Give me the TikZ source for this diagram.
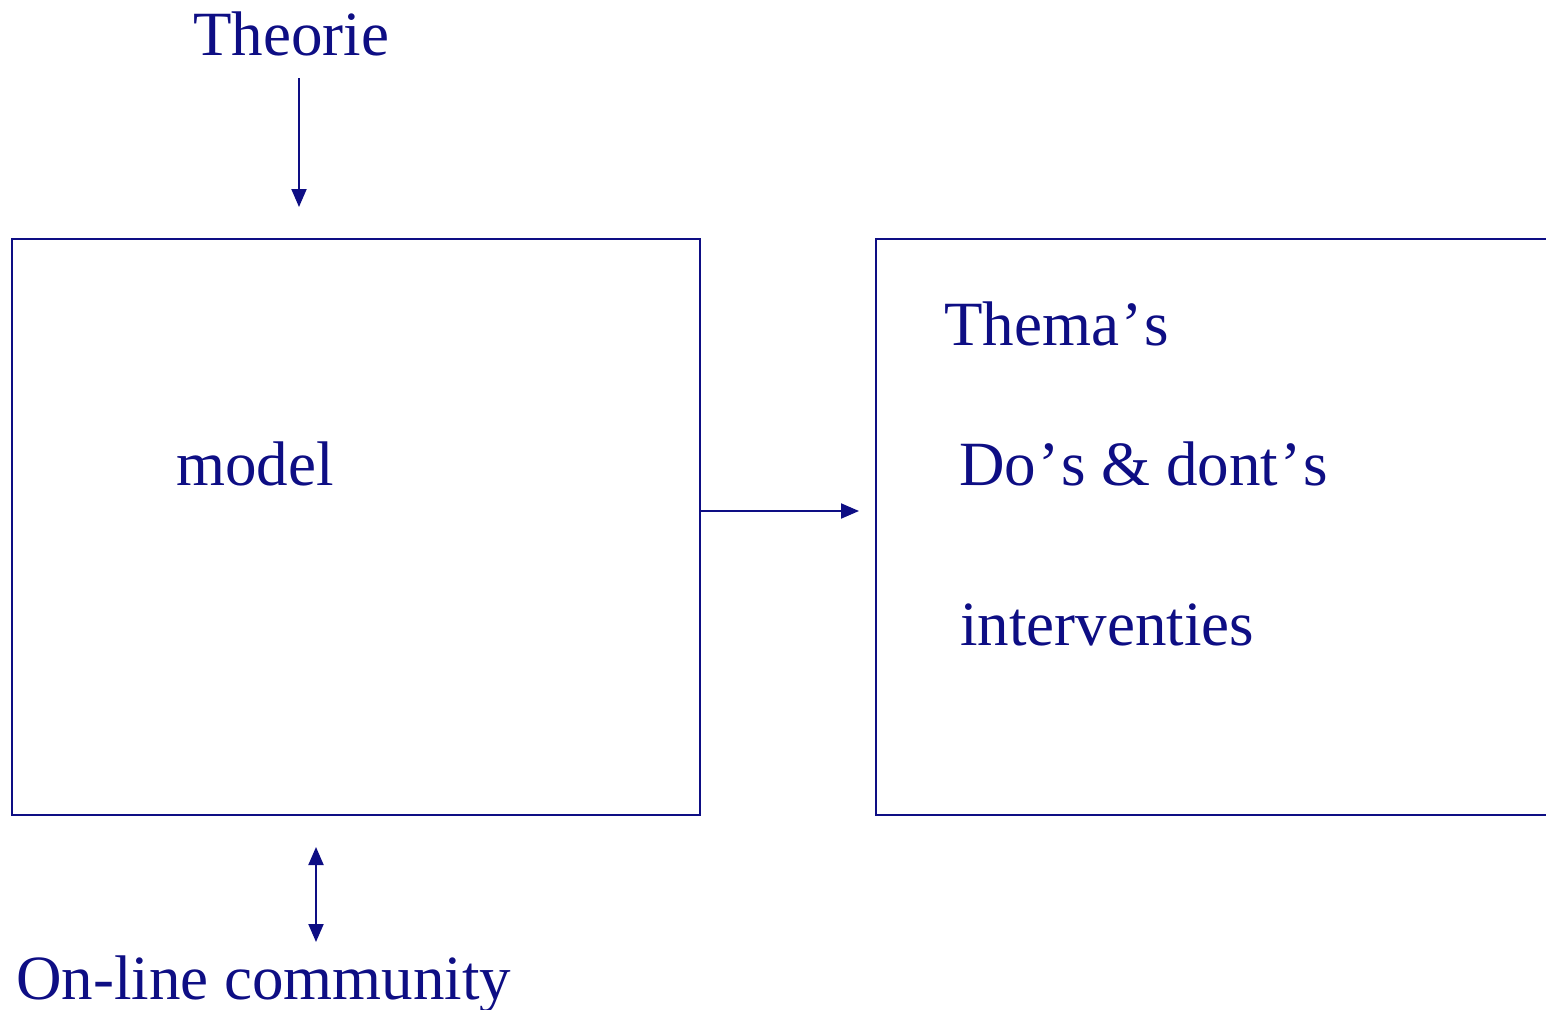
\documentclass[tikz,border=0pt]{standalone}
\usepackage{fontspec}
\setmainfont{Liberation Serif}
\usetikzlibrary{arrows.meta}

\definecolor{Navy}{HTML}{0E0E84}
\newcommand{\apos}{\kern2pt’\kern2pt}
\tikzstyle{frame}=[draw=Navy, line width=2pt, rectangle, inner sep=0pt]
\tikzstyle{word}=[text=Navy, anchor=base west, inner sep=0pt, font=\fontsize{63}{70}\selectfont]
\tikzstyle{flow}=[draw=Navy, line width=2pt, -{Triangle[length=18pt,width=15pt]}]
\tikzstyle{both-ways}=[draw=Navy, line width=2pt, {Triangle[length=18pt,width=15pt]}-{Triangle[length=18pt,width=15pt]}]

\begin{document}
\begin{tikzpicture}[x=1pt, y=-1pt]
      \clip (0,0) rectangle (1546,1009);

      \node (box-model) at (356,527) [frame, minimum width=688pt, minimum height=576pt] {};
      \node (box-themes) at (1238,527) [frame, minimum width=724pt, minimum height=576pt] {};

      \node (label-theorie) at (193,55) [word] {Theorie};
      \node (label-model) at (176,485) [word] {model};
      \node (label-themas) at (944,345) [word] {Thema\apos s};
      \node (label-dos) at (959,485) [word] {Do\apos s \& dont\apos s};
      \node (label-interventies) at (960,645) [word] {interventies};
      \node (label-community) at (16,999) [word] {On-line community};

      \coordinate (theorie-out) at (299,78);
      \coordinate (theorie-in) at (299,207);
      \coordinate (community-top) at (316,847);
      \coordinate (community-bottom) at (316,942);

      \draw[flow] (theorie-out) -- (theorie-in);
      \draw[flow, shorten >=16pt] ([yshift=16pt]box-model.east) -- ([yshift=16pt]box-themes.west);
      \draw[both-ways] (community-top) -- (community-bottom);
    \end{tikzpicture}
\end{document}
